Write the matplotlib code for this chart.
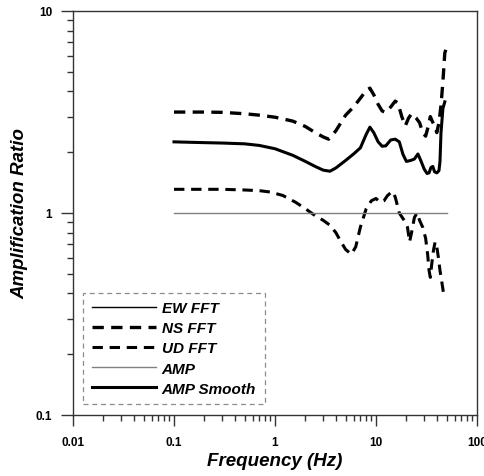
import matplotlib
matplotlib.use("Agg")
import matplotlib.pyplot as plt
from matplotlib.ticker import LogLocator, NullFormatter, FixedLocator, FixedFormatter

plt.rcParams['font.family'] = ['Liberation Sans', 'DejaVu Sans']

# ---- data ----
ns_freq = [0.1, 0.2, 0.3, 0.5, 0.7, 1.0, 1.5, 2.0, 2.5, 3.0, 3.4, 4.0, 5.0, 6.0, 7.0, 8.0,
           8.7, 9.5, 10.5, 11.5, 12.5, 14, 15.5, 16.5, 18, 19.5, 21, 22.5, 25, 27, 29, 31,
           33, 34.5, 36, 38, 40, 42, 44, 46, 48, 50]
ns_amp = [3.16, 3.16, 3.15, 3.1, 3.05, 2.98, 2.85, 2.68, 2.5, 2.38, 2.32, 2.55, 3.05, 3.35,
          3.7, 4.05, 4.15, 3.85, 3.45, 3.2, 3.15, 3.35, 3.58, 3.5, 3.0, 2.7, 2.95, 3.1, 2.95,
          2.8, 2.5, 2.4, 2.7, 3.0, 2.85, 2.7, 2.5, 2.8, 3.4, 4.5, 6.2, 6.6]

sm_freq = [0.1, 0.2, 0.3, 0.5, 0.7, 1.0, 1.5, 2.0, 2.5, 3.0, 3.5, 4.0, 5.0, 6.0, 7.0, 8.0,
           8.7, 9.5, 10.5, 11.5, 12.5, 14, 15.5, 17, 18.5, 20, 22, 24, 26, 28, 30, 32, 33.5,
           35, 36.5, 38, 40, 42, 43, 44, 46, 48]
sm_amp = [2.25, 2.23, 2.22, 2.2, 2.16, 2.08, 1.93, 1.8, 1.7, 1.63, 1.61, 1.67, 1.82, 1.96,
          2.1, 2.45, 2.66, 2.5, 2.25, 2.14, 2.15, 2.3, 2.32, 2.25, 1.95, 1.8, 1.82, 1.85,
          1.96, 1.8, 1.65, 1.57, 1.58, 1.68, 1.7, 1.6, 1.58, 1.62, 1.8, 2.5, 3.3, 3.55]

ud_freq = [0.1, 0.2, 0.3, 0.5, 0.7, 0.9, 1.2, 1.6, 2.0, 2.5, 3.0, 3.5, 4.0, 4.5, 5.0, 5.7,
           6.3, 7.0, 8.0, 9.0, 10.0, 11.0, 12.0, 13.0, 14.5, 15.5, 17, 19, 20.5, 21.5, 22.5,
           24, 25.5, 27, 29, 31, 32.5, 33.5, 34.5, 35.5, 37, 38.5, 40, 41.5, 43, 45, 47, 48.5]
ud_amp = [1.31, 1.31, 1.31, 1.3, 1.29, 1.27, 1.22, 1.13, 1.05, 0.97, 0.92, 0.87, 0.8, 0.72,
          0.66, 0.625, 0.68, 0.85, 1.05, 1.15, 1.18, 1.13, 1.15, 1.22, 1.28, 1.2, 1.0, 0.92,
          0.85, 0.72, 0.8, 0.95, 1.0, 0.92, 0.85, 0.75, 0.62, 0.52, 0.48, 0.55, 0.65, 0.72,
          0.68, 0.6, 0.52, 0.45, 0.39, 0.38]

amp_freq = [0.1, 50]
amp_val = [1.0, 1.0]

ew_freq = []
ew_amp = []

x_ticks = [0.01, 0.1, 1, 10, 100]
x_labels = ['0.01', '0.1', '1', '10', '100']
y_ticks = [0.1, 1, 10]
y_labels = ['0.1', '1', '10']

# ---- figure ----
fig = plt.figure(figsize=(4.84, 4.77), dpi=100)
ax = fig.add_axes([73/484, 1 - 416/477, 404/484, 404/477])

ax.plot(ew_freq, ew_amp, color='black', lw=1.0, label='EW FFT')
ax.plot(ns_freq, ns_amp, color='black', lw=2.4, ls=(0, (3.4, 2.2)), label='NS FFT')
ax.plot(ud_freq, ud_amp, color='black', lw=2.2, ls=(0, (3.4, 2.2)), label='UD FFT')
ax.plot(amp_freq, amp_val, color='#808080', lw=1.0, label='AMP')
ax.plot(sm_freq, sm_amp, color='black', lw=2.2, label='AMP Smooth')

ax.set_xscale('log')
ax.set_yscale('log')
ax.set_xlim(0.01, 100)
ax.set_ylim(0.1, 10)

ax.xaxis.set_major_locator(FixedLocator(x_ticks))
ax.xaxis.set_major_formatter(FixedFormatter(x_labels))
ax.yaxis.set_major_locator(FixedLocator(y_ticks))
ax.yaxis.set_major_formatter(FixedFormatter(y_labels))
ax.xaxis.set_minor_locator(LogLocator(base=10, subs=range(2, 10)))
ax.yaxis.set_minor_locator(LogLocator(base=10, subs=range(2, 10)))
ax.xaxis.set_minor_formatter(NullFormatter())
ax.yaxis.set_minor_formatter(NullFormatter())

ax.tick_params(axis='x', which='major', direction='out', length=8, width=1, color='#333333',
               labelsize=8.5, pad=7)
ax.tick_params(axis='y', which='major', direction='out', length=9, width=1, color='#333333',
               labelsize=8.5, pad=6)
ax.tick_params(which='minor', direction='out', length=4.5, width=1, color='#333333')
for lab in ax.get_xticklabels() + ax.get_yticklabels():
    lab.set_fontweight('bold')

for sp in ax.spines.values():
    sp.set_color('#333333')
    sp.set_linewidth(1.0)

ax.set_xlabel('Frequency (Hz)', fontsize=13.5, fontweight='bold', fontstyle='italic', labelpad=3)
ax.set_ylabel('Amplification Ratio', fontsize=13.5, fontweight='bold', fontstyle='italic', labelpad=5)

leg = ax.legend(loc='lower left', bbox_to_anchor=(0.025, 0.027), fancybox=False,
                prop={'weight': 'bold', 'style': 'italic', 'size': 11},
                handlelength=4.2, handletextpad=0.4, labelspacing=0.4,
                borderpad=0.55, borderaxespad=0)
frame = leg.get_frame()
frame.set_edgecolor('#707070')
frame.set_linestyle((0, (4, 3)))
frame.set_linewidth(0.9)

fig.savefig('out.png', dpi=100)
